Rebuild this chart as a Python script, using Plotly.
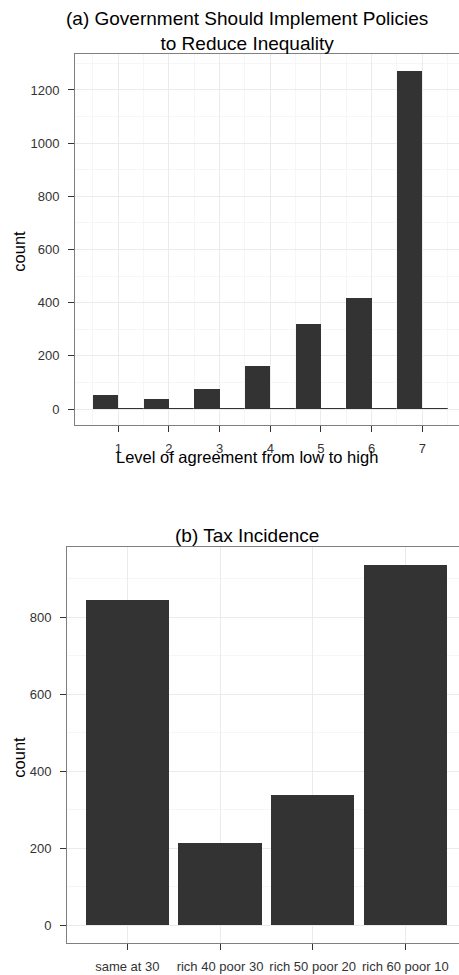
import plotly.graph_objects as go

# Panel (a): responses on a 1-7 agreement scale
agree_levels = [1, 2, 3, 4, 5, 6, 7]
agree_counts = [52, 37, 75, 162, 320, 418, 1272]
bin_width = 0.5

# Panel (b): preferred tax schedule
tax_labels = ["same at 30", "rich 40 poor 30", "rich 50 poor 20", "rich 60 poor 10"]
tax_counts = [847, 213, 338, 938]

W, H = 459, 975
FONT = "Liberation Sans, Arial, Helvetica, sans-serif"
BAR = "#333333"
BORDER = "#7f7f7f"
GRID = "#ebebeb"
GRID_MINOR = "#f6f6f6"

# histogram bins of width 0.5: each level fills [k-0.5, k], the bin [k, k+0.5] is empty
bin_centers, bin_counts = [], []
for lvl, c in zip(agree_levels, agree_counts):
    bin_centers += [lvl - bin_width / 2, lvl + bin_width / 2]
    bin_counts += [c, 0]
line_widths = [1 if c == 0 else 0 for c in bin_counts]


def px_x(p):
    return p / W


def px_y(p):
    return 1 - p / H


fig = go.Figure()

fig.add_trace(go.Bar(
    x=bin_centers, y=bin_counts, width=bin_width,
    marker=dict(color=BAR, line=dict(color=BAR, width=line_widths)),
    xaxis="x", yaxis="y", showlegend=False, hoverinfo="x+y",
))

fig.add_trace(go.Bar(
    x=tax_labels, y=tax_counts, width=0.9,
    marker=dict(color=BAR, line=dict(width=0)),
    xaxis="x2", yaxis="y2", showlegend=False,
))

tickfont = dict(family=FONT, size=13, color="#333333")
common = dict(
    ticks="outside", ticklen=6, tickwidth=1, tickcolor="#333333",
    showline=True, linecolor=BORDER, linewidth=1,
    showgrid=True, gridcolor=GRID, gridwidth=1,
    zeroline=False, tickfont=tickfont, fixedrange=True,
)

fig.update_layout(
    width=W, height=H,
    margin=dict(l=0, r=0, t=0, b=0),
    paper_bgcolor="white", plot_bgcolor="white",
    font=dict(family=FONT, color="#000000"),
    bargap=0,
    xaxis=dict(
        domain=[px_x(75), 1], anchor="y",
        range=[0.1455, 7.724], tickmode="linear", tick0=1, dtick=1,
        mirror=True, ticklabelstandoff=5,
        minor=dict(dtick=0.5, tick0=0.5, showgrid=True, gridcolor=GRID_MINOR, gridwidth=1, ticks=""),
        **common,
    ),
    yaxis=dict(
        domain=[px_y(425), px_y(54)], anchor="x",
        range=[-60.2, 1335.4], tickmode="linear", tick0=0, dtick=200,
        ticklabelstandoff=6,
        minor=dict(dtick=100, tick0=0, showgrid=True, gridcolor=GRID_MINOR, gridwidth=1, ticks=""),
        **common,
    ),
    xaxis2=dict(
        domain=[px_x(67), 1], anchor="y2", type="category",
        range=[-0.651, 3.579], tickangle=0,
        mirror=True, ticklabelstandoff=6,
        **common,
    ),
    yaxis2=dict(
        domain=[px_y(942.7), px_y(546.7)], anchor="x2",
        range=[-46.0, 983.5], tickmode="linear", tick0=0, dtick=200,
        ticklabelstandoff=6,
        minor=dict(dtick=100, tick0=0, showgrid=True, gridcolor=GRID_MINOR, gridwidth=1, ticks=""),
        **common,
    ),
)

annotations = [
    dict(text="(a) Government Should Implement Policies<br>to Reduce Inequality",
         x=px_x(247), y=px_y(31), font=dict(size=19, family=FONT, color="#000000")),
    dict(text="(b) Tax Incidence",
         x=px_x(247), y=px_y(535), font=dict(size=19, family=FONT, color="#000000")),
    dict(text="Level of agreement from low to high",
         x=px_x(247), y=px_y(457), font=dict(size=16.5, family=FONT, color="#000000")),
    dict(text="count", textangle=-90,
         x=px_x(18.7), y=px_y(251), font=dict(size=16.5, family=FONT, color="#000000")),
    dict(text="count", textangle=-90,
         x=px_x(18.7), y=px_y(757), font=dict(size=16.5, family=FONT, color="#000000")),
]
for a in annotations:
    fig.add_annotation(xref="paper", yref="paper", xanchor="center", yanchor="middle",
                       showarrow=False, **a)

fig.write_html("out.html")
